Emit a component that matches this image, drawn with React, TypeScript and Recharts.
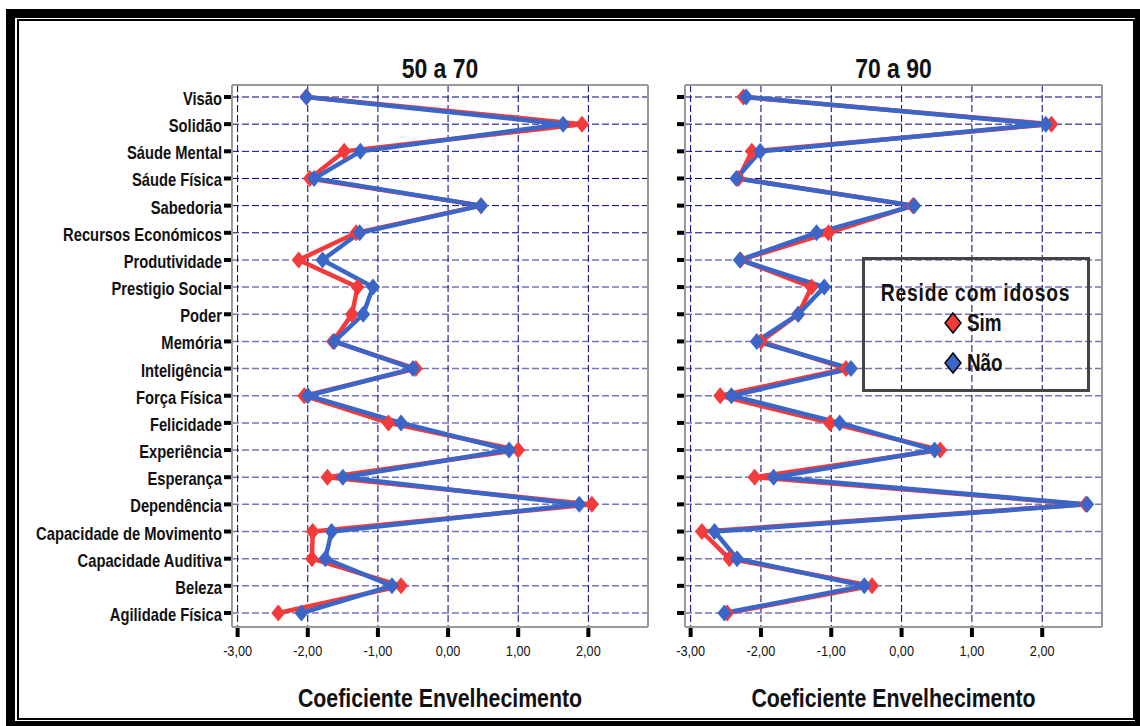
import React from 'react';
import { LineChart, Line, XAxis, YAxis, CartesianGrid, Legend } from 'recharts';

const FONT = "'Liberation Sans', Arial, sans-serif";
const SX = 0.82; // horizontal condensation to mimic a narrow face

const categories = [
  'Visão', 'Solidão', 'Sáude Mental', 'Sáude Física', 'Sabedoria', 'Recursos Económicos',
  'Produtividade', 'Prestigio Social', 'Poder', 'Memória', 'Inteligência', 'Força Física',
  'Felicidade', 'Experiência', 'Esperança', 'Dependência', 'Capacidade de Movimento',
  'Capacidade Auditiva', 'Beleza', 'Agilidade Física',
];

const sim5070 = [-2.02, 1.91, -1.48, -1.97, 0.47, -1.31, -2.13, -1.29, -1.37, -1.64, -0.46, -2.05, -0.85, 1.0, -1.72, 2.05, -1.93, -1.94, -0.67, -2.42];
const nao5070 = [-2.02, 1.64, -1.25, -1.91, 0.47, -1.26, -1.79, -1.07, -1.21, -1.62, -0.5, -2.0, -0.67, 0.87, -1.5, 1.87, -1.66, -1.75, -0.8, -2.09];
const sim7090 = [-2.25, 2.13, -2.13, -2.32, 0.16, -1.04, -2.29, -1.28, -1.47, -2.0, -0.79, -2.58, -1.02, 0.55, -2.09, 2.62, -2.84, -2.45, -0.42, -2.48];
const nao7090 = [-2.21, 2.05, -2.01, -2.35, 0.18, -1.21, -2.3, -1.1, -1.47, -2.06, -0.72, -2.42, -0.88, 0.47, -1.82, 2.64, -2.66, -2.34, -0.53, -2.52];

const xTicks = [-3, -2, -1, 0, 1, 2];
const xDomain = [-3.08, 2.85];
const panelTitles = ['50 a 70', '70 a 90'];
const axisTitle = 'Coeficiente Envelhecimento';
const legendTitle = 'Reside com idosos';
const seriesNames = ['Sim', 'Não'];

const RED = '#f43b3b';
const BLUE = '#3b66c8';
const BORDER = '#999999';

const fmt = (v: number) => v.toFixed(2).replace('.', ',');

const NText = ({ x, y, anchor, size, bold, children }: any) => (
  <text
    transform={`translate(${x},${y}) scale(${SX},1)`}
    x={0}
    y={0}
    textAnchor={anchor}
    fontSize={size}
    fontWeight={bold ? 'bold' : 'normal'}
    fontFamily={FONT}
    fill="#111"
  >
    {children}
  </text>
);

const Diamond = (p: any) => {
  const { cx, cy, fill } = p;
  if (cx == null || cy == null) return null;
  return (
    <polygon
      key={p.key ?? `d-${p.index}`}
      points={`${cx},${cy - 8.5} ${cx + 7},${cy} ${cx},${cy + 8.5} ${cx - 7},${cy}`}
      fill={fill}
    />
  );
};

const XTick = (p: any) => {
  const { x, y, payload } = p;
  return (
    <g>
      <rect x={x - 2} y={y + 1} width={4} height={9} fill="#000" />
      <NText x={x} y={y + 29} anchor="middle" size={15.5}>{fmt(payload.value)}</NText>
    </g>
  );
};

const YTick = (p: any) => {
  const { x, y, payload, showLabel } = p;
  return (
    <g>
      <rect x={x - 8} y={y - 2} width={7} height={4} fill="#000" />
      {showLabel && (
        <NText x={x - 10} y={y + 8} anchor="end" size={18} bold>{payload.value}</NText>
      )}
    </g>
  );
};

const LegendBox = (props: any) => {
  const payload = [...(props.payload || [])].sort(
    (a: any, b: any) => seriesNames.indexOf(a.value) - seriesNames.indexOf(b.value)
  );
  const narrow = { display: 'inline-block', transform: `scaleX(${SX})`, whiteSpace: 'nowrap' as const };
  return (
    <div
      style={{
        width: 228, height: 135, boxSizing: 'border-box', border: '3px solid #444',
        position: 'relative', fontFamily: FONT, fontWeight: 'bold', color: '#111',
      }}
    >
      <div style={{ position: 'absolute', top: 20, left: -40, right: -40, textAlign: 'center', fontSize: 23.5, letterSpacing: 1, lineHeight: '26px', whiteSpace: 'nowrap' }}>
        <span style={{ ...narrow, transformOrigin: 'center' }}>{legendTitle}</span>
      </div>
      {payload.map((item: any, i: number) => (
        <React.Fragment key={item.value}>
          <svg width={20} height={24} style={{ position: 'absolute', left: 78, top: 51 + i * 40, display: 'block' }}>
            <polygon points="10,2 18,12 10,22 2,12" fill={item.color} stroke="#000" strokeWidth={1.5} />
          </svg>
          <div style={{ position: 'absolute', left: 102, top: 50 + i * 40, fontSize: 23, lineHeight: '26px' }}>
            <span style={{ ...narrow, transformOrigin: 'left center' }}>{item.value}</span>
          </div>
        </React.Fragment>
      ))}
    </div>
  );
};

type PanelProps = {
  title: string; sim: number[]; nao: number[]; showLabels: boolean; width: number;
  left: number; yAxisWidth: number; marginRight: number; showLegend: boolean;
};

function Panel({ title, sim, nao, showLabels, width, left, yAxisWidth, marginRight, showLegend }: PanelProps) {
  const data = categories.map((name, i) => ({ name, sim: sim[i], nao: nao[i] }));
  const plotWidth = width - yAxisWidth - marginRight;
  const cx = yAxisWidth + plotWidth / 2;
  return (
    <div style={{ position: 'absolute', left, top: 0 }}>
      <LineChart
        width={width}
        height={726}
        data={data}
        layout="vertical"
        margin={{ top: 85, right: marginRight, bottom: 69, left: 0 }}
      >
        <CartesianGrid
          syncWithTicks
          stroke="#000080"
          strokeDasharray="7 3"
          horizontal={(p: any) => (
            <line
              key={p.key}
              x1={p.x1} y1={p.y1} x2={p.x2} y2={p.y2}
              stroke={p.index < 6 ? '#000080' : '#7474ba'}
              strokeWidth={p.index < 6 ? 1 : 1.5}
              strokeDasharray="7 3"
            />
          )}
        />
        <CartesianGrid
          stroke={BORDER}
          strokeWidth={2}
          horizontalCoordinatesGenerator={(args: any) =>
            args && args.offset ? [args.offset.top, args.offset.top + args.offset.height] : []
          }
          verticalCoordinatesGenerator={(args: any) =>
            args && args.offset ? [args.offset.left, args.offset.left + args.offset.width] : []
          }
        />
        <XAxis
          type="number"
          domain={xDomain}
          ticks={xTicks}
          allowDataOverflow
          interval={0}
          height={30}
          tickSize={0}
          tickMargin={0}
          axisLine={false}
          tickLine={false}
          tick={<XTick />}
        />
        <YAxis
          type="category"
          dataKey="name"
          scale="point"
          padding={{ top: 12, bottom: 14 }}
          width={yAxisWidth}
          interval={0}
          tickSize={0}
          tickMargin={0}
          axisLine={false}
          tickLine={false}
          tick={(p: any) => <YTick {...p} showLabel={showLabels} />}
        />
        <Line
          dataKey="sim"
          name={seriesNames[0]}
          type="linear"
          stroke={RED}
          strokeWidth={4.5}
          dot={(p: any) => <Diamond {...p} fill={RED} />}
          activeDot={false}
          isAnimationActive={false}
        />
        <Line
          dataKey="nao"
          name={seriesNames[1]}
          type="linear"
          stroke={BLUE}
          strokeWidth={4.5}
          dot={(p: any) => <Diamond {...p} fill={BLUE} />}
          activeDot={false}
          isAnimationActive={false}
        />
        <NText x={cx} y={78} anchor="middle" size={28} bold>{title}</NText>
        <NText x={cx} y={707} anchor="middle" size={26} bold>{axisTitle}</NText>
        {showLegend && (
          <Legend
            layout="horizontal"
            align="center"
            verticalAlign="middle"
            wrapperStyle={{ left: 221.7, top: 256.7, width: 228, height: 135 }}
            content={(props: any) => <LegendBox payload={props.payload} />}
          />
        )}
      </LineChart>
    </div>
  );
}

export default function App() {
  return (
    <div style={{ position: 'absolute', left: 0, top: 0, width: 1140, height: 726, background: '#fff', overflow: 'hidden' }}>
      <div
        style={{
          position: 'absolute', left: 6, top: 9, width: 1134, height: 717, boxSizing: 'border-box',
          borderStyle: 'solid', borderColor: '#000', borderWidth: '9px 5px 5px 9px',
        }}
      />
      <div
        style={{
          position: 'absolute', left: 16.5, top: 19, width: 1118, height: 701, boxSizing: 'border-box',
          border: '2px solid #000',
        }}
      />
      <Panel title={panelTitles[0]} sim={sim5070} nao={nao5070} showLabels width={660} left={0} yAxisWidth={232} marginRight={12} showLegend={false} />
      <Panel title={panelTitles[1]} sim={sim7090} nao={nao7090} showLabels={false} width={500} left={640} yAxisWidth={45} marginRight={38} showLegend />
    </div>
  );
}
